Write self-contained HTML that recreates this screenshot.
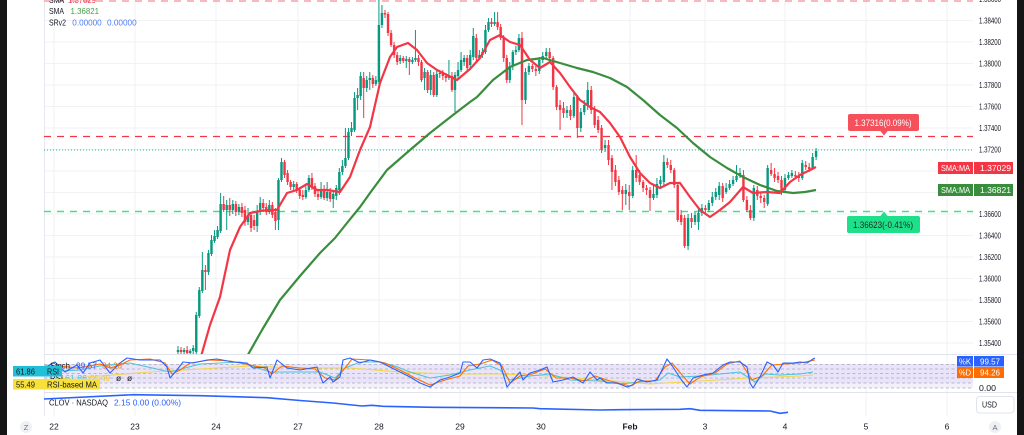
<!DOCTYPE html>
<html><head><meta charset="utf-8"><title>Chart</title>
<style>html,body{margin:0;padding:0;background:#fff;}svg{display:block;}</style>
</head><body>
<svg xmlns="http://www.w3.org/2000/svg" width="1024" height="435" viewBox="0 0 1024 435" font-family="'Liberation Sans', sans-serif">
<defs>
<clipPath id="mc"><rect x="44" y="0" width="929" height="354"/></clipPath>
<clipPath id="sc"><rect x="44" y="355" width="929" height="37"/></clipPath>
</defs>
<rect x="0" y="0" width="1024" height="435" fill="#fff"/>
<!-- grid -->
<g stroke="#f0f2f6" stroke-width="1">
<path d="M44 20.5H973M44 42H973M44 63.5H973M44 85H973M44 106.5H973M44 128H973M44 149.5H973M44 171H973M44 192.5H973M44 214H973M44 235.5H973M44 257H973M44 278.5H973M44 300H973M44 321.5H973M44 343H973"/>
<path d="M54 0V416M135 0V416M216 0V416M298 0V416M379 0V416M460 0V416M541 0V416M630 0V416M705 0V416M785 0V416M866 0V416M947 0V416"/>
</g>
<path d="M44.5 0V416" stroke="#e6e8ee"/>
<!-- pane separators -->
<path d="M44 354.5H1017M44 392.5H1017" stroke="#e0e3eb" stroke-width="1"/>

<!-- horizontal levels -->
<path d="M44 1H973" stroke="#f5a0a7" stroke-width="1.5" stroke-dasharray="7 6"/>
<path d="M44 136.5H973" stroke="#f23645" stroke-width="1.2" stroke-dasharray="7 6"/>
<path d="M44 211.5H973" stroke="#44e08e" stroke-width="1.6" stroke-dasharray="7 6"/>
<path d="M44 150H973" stroke="#2bb3a3" stroke-width="1" stroke-dasharray="1 2"/>

<g clip-path="url(#mc)">
<!-- group A candles -->
<g transform="translate(178,0) scale(3.044,1)">
<path fill="#089981" d="M-.4 350h.8V352h-.8zM1.6 350h.8V352h-.8zM3.6 351h.8V353h-.8zM4.6 348h.8V351h-.8zM5.6 315h.8V352h-.8zM6.6 290h.8V316h-.8zM7.6 270h.8V291h-.8zM9.6 253h.8V272h-.8zM10.6 240h.8V254h-.8zM11.6 236h.8V241h-.8zM12.6 230h.8V237h-.8zM13.6 204h.8V231h-.8zM15.6 205h.8V210h-.8zM17.6 204h.8V210h-.8zM19.6 207h.8V212h-.8zM22.6 215h.8V222h-.8zM25.6 212h.8V226h-.8zM26.6 203h.8V212h-.8zM29.6 205h.8V212h-.8zM32.6 180h.8V220h-.8zM33.6 162h.8V180h-.8zM37.6 184h.8V187h-.8zM41.6 190h.8V197h-.8zM42.6 178h.8V190h-.8zM46.6 190h.8V197h-.8zM48.6 192h.8V198h-.8zM50.6 194h.8V199h-.8zM51.6 188h.8V196h-.8zM52.6 172h.8V190h-.8zM53.6 166h.8V172h-.8zM54.6 158h.8V166h-.8zM55.6 132h.8V158h-.8zM56.6 128h.8V132h-.8zM57.6 98h.8V130h-.8zM58.6 95h.8V98h-.8zM59.6 76h.8V96h-.8zM61.6 80h.8V88h-.8zM62.6 78h.8V80h-.8zM64.6 80h.8V84h-.8zM65.6 25h.8V82h-.8zM66.6 13h.8V25h-.8zM72.6 58h.8V61h-.8zM74.6 59h.8V61h-.8zM76.6 60h.8V62h-.8zM77.6 58h.8V60h-.8zM80.6 72h.8V78h-.8zM82.6 75h.8V90h-.8zM84.6 74h.8V95h-.8zM85.6 73h.8V74h-.8zM88.6 76h.8V78h-.8zM90.6 75h.8V90h-.8zM91.6 70h.8V76h-.8zM92.6 60h.8V70h-.8zM93.6 58h.8V62h-.8zM95.6 55h.8V65h-.8zM96.6 36h.8V57h-.8zM98.6 55h.8V58h-.8zM99.6 52h.8V55h-.8zM100.6 30h.8V52h-.8zM101.6 22h.8V30h-.8zM103.6 22h.8V24h-.8zM108.6 66h.8V80h-.8zM109.6 52h.8V66h-.8zM110.6 50h.8V52h-.8zM111.6 38h.8V50h-.8z"/>
<path stroke="#089981" stroke-width="1" vector-effect="non-scaling-stroke" fill="none" d="M0 346V355M2 348V355M4 349V355M5 345V355M6 312V355M7 287V318M8 252V293M10 250V275M11 235V256M12 230V243M13 226V239M14 193V233M16 200V230M18 200V214M20 204V215M23 208V225M26 205V232M27 197V215M30 200V214M33 178V230M34 158V182M38 181V190M42 186V199M43 175V192M47 182V199M49 182V201M51 190V208M52 185V200M53 168V195M54 160V175M55 128V168M56 128V160M57 122V136M58 92V132M59 88V110M60 72V100M62 76V92M63 72V90M65 76V86M66 0V84M67 5V28M73 55V64M75 56V68M77 57V64M78 30V62M81 68V90M83 70V95M85 70V97M86 70V78M89 60V80M91 72V112M92 62V78M93 52V72M94 55V66M96 50V68M97 28V60M99 50V60M100 48V58M101 25V54M102 18V32M104 12V26M109 62V83M110 50V70M111 46V55M112 34V52"/>
<path fill="#f23645" d="M.6 350h.8V352h-.8zM2.6 350h.8V353h-.8zM8.6 270h.8V272h-.8zM14.6 204h.8V210h-.8zM16.6 205h.8V210h-.8zM18.6 204h.8V212h-.8zM20.6 207h.8V213h-.8zM21.6 210h.8V222h-.8zM23.6 215h.8V228h-.8zM24.6 220h.8V226h-.8zM27.6 203h.8V208h-.8zM28.6 207h.8V212h-.8zM30.6 205h.8V215h-.8zM31.6 212h.8V221h-.8zM34.6 162h.8V175h-.8zM35.6 173h.8V182h-.8zM36.6 182h.8V187h-.8zM38.6 184h.8V190h-.8zM39.6 190h.8V196h-.8zM40.6 195h.8V197h-.8zM43.6 178h.8V186h-.8zM44.6 186h.8V194h-.8zM45.6 194h.8V197h-.8zM47.6 190h.8V198h-.8zM49.6 192h.8V199h-.8zM60.6 78h.8V88h-.8zM63.6 78h.8V84h-.8zM67.6 13h.8V14.5h-.8zM68.6 14h.8V33h-.8zM69.6 33h.8V45h-.8zM70.6 45h.8V55h-.8zM71.6 55h.8V62h-.8zM73.6 58h.8V61h-.8zM75.6 59h.8V62h-.8zM78.6 58h.8V62h-.8zM79.6 62h.8V80h-.8zM81.6 72h.8V90h-.8zM83.6 75h.8V95h-.8zM86.6 73h.8V76h-.8zM87.6 76h.8V78h-.8zM89.6 76h.8V90h-.8zM94.6 58h.8V68h-.8zM97.6 38h.8V58h-.8zM102.6 22h.8V24h-.8zM104.6 22h.8V27h-.8zM105.6 27h.8V38h-.8zM106.6 38h.8V58h-.8zM107.6 58h.8V80h-.8zM112.6 38h.8V100h-.8z"/>
<path stroke="#f23645" stroke-width="1" vector-effect="non-scaling-stroke" fill="none" d="M1 347V355M3 346V355M9 265V290M15 196V212M17 198V216M19 201V216M21 203V217M22 206V226M24 212V232M25 215V230M28 199V212M29 203V215M31 202V218M32 208V230M35 160V178M36 170V185M37 180V190M39 182V193M40 187V199M41 190V200M44 173V190M45 183V197M46 190V200M48 185V200M50 188V202M61 72V118M64 75V88M68 10V18M69 12V36M70 30V47M71 42V58M72 52V65M74 56V63M76 57V75M79 55V66M80 60V82M82 70V93M84 72V97M87 70V80M88 73V82M90 72V92M95 55V70M98 34V62M103 18V27M105 12V30M106 24V40M107 35V62M108 55V83M113 32V125"/>
</g>
<!-- group B candles -->
<g transform="translate(522,0) scale(3.46,1)">
<path fill="#089981" d="M.65 72h.7V100h-.7zM1.65 66h.7V72h-.7zM4.65 60h.7V71h-.7zM5.65 56h.7V60h-.7zM6.65 52h.7V56h-.7zM12.65 110h.7V113h-.7zM14.65 97h.7V116h-.7zM16.65 112h.7V128h-.7zM17.65 105h.7V112h-.7zM18.65 90h.7V105h-.7zM23.65 145h.7V148h-.7zM29.65 190h.7V194h-.7zM31.65 170h.7V196h-.7zM37.65 194h.7V198h-.7zM38.65 184h.7V195h-.7zM39.65 180h.7V184h-.7zM40.65 162h.7V182h-.7zM47.65 218h.7V246h-.7zM49.65 215h.7V222h-.7zM50.65 213h.7V222h-.7zM51.65 208h.7V213h-.7zM53.65 203h.7V210h-.7zM54.65 197h.7V203h-.7zM55.65 192h.7V197h-.7zM56.65 186h.7V195h-.7zM58.65 188h.7V192h-.7zM59.65 184h.7V188h-.7zM60.65 180h.7V184h-.7zM61.65 176h.7V180h-.7zM62.65 173h.7V176h-.7zM66.65 188h.7V218h-.7zM70.65 168h.7V204h-.7zM75.65 178h.7V190h-.7zM76.65 175h.7V178h-.7zM77.65 173h.7V176h-.7zM80.65 163h.7V178h-.7zM83.65 157h.7V168h-.7zM84.65 151h.7V157h-.7z"/>
<path stroke="#089981" stroke-width="1" vector-effect="non-scaling-stroke" fill="none" d="M1 68V104M2 63V75M5 57V74M6 52V63M7 48V60M13 106V118M15 92V118M17 108V132M18 100V115M19 82V110M24 140V152M30 184V205M32 166V198M38 185V200M39 178V198M40 176V187M41 155V185M48 214V250M50 212V225M51 208V230M52 204V216M54 200V212M55 192V206M56 188V200M57 182V200M59 183V194M60 180V190M61 176V186M62 165V182M63 168V178M67 185V221M71 165V206M76 174V193M77 172V180M78 170V178M81 160V180M84 153V170M85 148V160"/>
<path fill="#f23645" d="M2.65 66h.7V69h-.7zM3.65 69h.7V71h-.7zM7.65 52h.7V58h-.7zM8.65 58h.7V87h-.7zM9.65 87h.7V107h-.7zM10.65 105h.7V110h-.7zM11.65 108h.7V113h-.7zM13.65 110h.7V116h-.7zM15.65 97h.7V128h-.7zM19.65 90h.7V110h-.7zM20.65 110h.7V125h-.7zM21.65 120h.7V130h-.7zM22.65 128h.7V150h-.7zM24.65 145h.7V160h-.7zM25.65 158h.7V172h-.7zM26.65 170h.7V182h-.7zM27.65 180h.7V192h-.7zM28.65 190h.7V194h-.7zM30.65 192h.7V196h-.7zM32.65 170h.7V178h-.7zM33.65 175h.7V182h-.7zM34.65 182h.7V188h-.7zM35.65 188h.7V190h-.7zM36.65 190h.7V198h-.7zM41.65 162h.7V165h-.7zM42.65 165h.7V170h-.7zM43.65 170h.7V185h-.7zM44.65 185h.7V220h-.7zM45.65 215h.7V222h-.7zM46.65 218h.7V246h-.7zM48.65 218h.7V222h-.7zM52.65 208h.7V210h-.7zM57.65 186h.7V198h-.7zM63.65 175h.7V200h-.7zM64.65 200h.7V210h-.7zM65.65 210h.7V218h-.7zM67.65 190h.7V196h-.7zM68.65 196h.7V198h-.7zM69.65 198h.7V202h-.7zM71.65 170h.7V174h-.7zM72.65 174h.7V178h-.7zM73.65 176h.7V180h-.7zM74.65 180h.7V192h-.7zM78.65 175h.7V176.5h-.7zM79.65 176h.7V178h-.7zM81.65 165h.7V167h-.7zM82.65 167h.7V169h-.7z"/>
<path stroke="#f23645" stroke-width="1" vector-effect="non-scaling-stroke" fill="none" d="M3 64V72M4 66V76M8 48V62M9 56V90M10 85V110M11 100V130M12 102V118M14 105V120M16 95V138M20 86V114M21 106V128M22 116V133M23 125V153M25 140V165M26 155V190M27 165V186M28 176V195M29 186V210M31 185V210M33 155V182M34 170V185M35 180V192M36 185V195M37 187V211M42 158V168M43 160V173M44 168V188M45 182V222M46 210V225M47 215V248M49 213V228M53 205V213M58 183V202M64 170V202M65 196V212M66 205V220M68 186V200M69 192V203M70 195V208M72 163V176M73 168V182M74 172V183M75 176V195M79 171V179M80 172V182M82 161V170M83 163V172"/>
</g>
<!-- moving averages -->
<polyline fill="none" stroke="#388e3c" stroke-width="2.2" stroke-linejoin="round" points="245,360 262,330 280,300 300,276 320,253 335,238 347,223 360,207 370,193 387,170 410,150 430,133 453,115 470,102 477,97 493,80 510,67 527,60 543,58 560,63 577,68 593,72 610,78 627,87 643,100 660,115 677,128 693,143 710,157 727,168 743,177 760,185 777,191 793,193 805,192 816,190"/>
<polyline fill="none" stroke="#f23645" stroke-width="2.2" stroke-linejoin="round" points="200,360 210,325 220,297 230,250 240,227 250,213 260,211 270,210 277,210 287,193 297,190 307,184 317,190 327,190 340,192 350,177 360,150 370,127 380,83 390,57 397,47 408,43 417,50 427,63 437,70 447,75 457,80 470,69 480,58 490,40 500,35 510,42 520,45 530,60 540,68 550,62 560,73 570,87 580,100 590,107 600,112 610,123 620,137 630,157 640,173 650,183 660,188 670,183 680,183 690,197 700,210 710,217 720,210 730,202 743,187 753,193 767,192 780,193 790,182 800,175 810,170 816,167"/>
</g>

<!-- top legend -->
<g font-size="8.5" fill="#131722">
<text x="49" y="3" textLength="15" lengthAdjust="spacingAndGlyphs">SMA</text>
<text x="68" y="3" fill="#f23645" textLength="28" lengthAdjust="spacingAndGlyphs">1.37029</text>
<text x="49" y="14" textLength="15" lengthAdjust="spacingAndGlyphs">SMA</text>
<text x="70.5" y="14" fill="#43a047" textLength="28.5" lengthAdjust="spacingAndGlyphs">1.36821</text>
<text x="49" y="25.5" textLength="17" lengthAdjust="spacingAndGlyphs">SRv2</text>
<text x="72.3" y="25.5" fill="#4f7df9" textLength="29.4" lengthAdjust="spacingAndGlyphs">0.00000</text>
<text x="107" y="25.5" fill="#4f7df9" textLength="29.7" lengthAdjust="spacingAndGlyphs">0.00000</text>
</g>

<!-- level labels -->
<rect x="848" y="114" width="71" height="17" rx="2" fill="#f5515c"/>
<polygon points="880,130.5 888,130.5 884,135.5" fill="#f5515c"/>
<text x="854.5" y="125.8" font-size="9" fill="#fff" textLength="57" lengthAdjust="spacingAndGlyphs">1.37316(0.09%)</text>
<rect x="847" y="216" width="73" height="17" rx="2" fill="#1fe08a"/>
<polygon points="880,216.5 888,216.5 884,211.5" fill="#1fe08a"/>
<text x="853" y="227.8" font-size="9" fill="#1b2a22" textLength="60" lengthAdjust="spacingAndGlyphs">1.36623(-0.41%)</text>

<!-- stoch panel -->
<rect x="44" y="364" width="929" height="19" fill="#e9e4fa"/>
<rect x="44" y="383" width="929" height="5" fill="#f3f0fc"/>
<g stroke="#a8abb5" stroke-width="0.8" stroke-dasharray="3 2.5">
<path d="M44 364.5H973M44 369H973M44 373.5H973M44 378H973M44 383H973M44 388H973"/>
</g>
<g clip-path="url(#sc)" fill="none" stroke-width="1.1" stroke-linejoin="round">
<polyline stroke="#f2d64b" points="44,380 100,376 150,372 200,369 250,366 300,368 350,368 400,372 450,374 500,374 550,376 600,380 650,384 700,381 750,378 800,376 813,375"/>
<polyline stroke="#4fc3d9" points="44,372 80,370 100,366 130,363 170,372 200,364 240,362 270,372 300,372 320,372 335,378 345,368 360,362 380,362 395,366 410,372 430,378 450,375 470,370 490,366 500,370 510,380 530,376 550,374 570,380 600,381 620,384 640,382 660,380 668,373 680,377 700,376 720,374 740,372 755,382 765,374 780,375 800,374 813,372"/>
<polyline stroke="#ff6d00" points="44,366 60,366 77,368 90,366 100,364 110,368 120,365 130,360 150,359 165,363 172,374 180,370 190,363 210,360 230,361 250,365 265,368 272,374 282,366 300,368 315,369 325,378 335,380 345,368 352,359 370,360 385,363 400,370 415,378 430,385 445,380 460,376 468,366 480,364 492,360 502,366 510,383 520,376 532,374 545,369 556,378 570,378 585,381 595,376 610,381 630,386 640,381 655,381 665,367 672,363 682,375 690,384 700,377 715,373 727,364 740,361 752,380 762,376 772,365 785,364 800,363 815,360"/>
<polyline stroke="#2962ff" points="44,368 55,362 65,372 77,365 83,373 90,363 100,360 110,373 120,363 127,358 140,360 160,360 167,367 170,378 177,370 183,362 193,363 207,360 217,359 233,362 247,363 253,368 267,367 270,378 277,360 287,368 300,370 317,367 323,383 330,377 333,382 340,377 343,360 350,358 360,363 370,360 380,362 390,367 400,372 410,377 420,383 430,387 440,380 450,377 460,373 463,362 470,362 477,368 483,360 490,359 500,363 507,387 513,380 520,372 523,380 530,373 540,370 547,367 553,382 563,380 573,377 583,383 590,372 597,380 600,378 607,383 617,383 627,387 633,385 637,379 647,382 657,380 662,370 667,359 673,367 680,378 687,387 693,378 703,375 713,373 723,365 730,362 740,362 747,367 750,383 753,388 760,377 767,362 773,365 778,372 783,363 793,363 800,362 807,363 813,359 815,358"/>
</g>
<!-- stoch legend -->
<g font-size="8.5">
<text x="50" y="368.5" fill="#131722" textLength="20" lengthAdjust="spacingAndGlyphs">Stoch</text>
<text x="76" y="368.5" fill="#2962ff" textLength="21" lengthAdjust="spacingAndGlyphs">99.57</text>
<text x="102" y="368.5" fill="#ff6d00" textLength="20" lengthAdjust="spacingAndGlyphs">94.26</text>
<text x="50" y="381" fill="#131722" textLength="13" lengthAdjust="spacingAndGlyphs">RSI</text>
<text x="65" y="381" fill="#4fc3d9" textLength="22" lengthAdjust="spacingAndGlyphs">61.86</text>
<text x="90" y="381" fill="#e6c83a" textLength="20" lengthAdjust="spacingAndGlyphs">55.49</text>
<text x="116" y="381" fill="#131722">ø</text>
<text x="127" y="381" fill="#131722">ø</text>
<rect x="13" y="366" width="49" height="10.5" fill="#22c0d6"/>
<text x="16" y="374.5" fill="#131722" textLength="19" lengthAdjust="spacingAndGlyphs">61.86</text>
<text x="47" y="374.5" fill="#131722" textLength="12" lengthAdjust="spacingAndGlyphs">RSI</text>
<rect x="13" y="379" width="87" height="10.5" fill="#f7e03a"/>
<text x="16" y="387.5" fill="#131722" textLength="19" lengthAdjust="spacingAndGlyphs">55.49</text>
<text x="47" y="387.5" fill="#131722" textLength="50" lengthAdjust="spacingAndGlyphs">RSI-based MA</text>
</g>

<!-- CLOV line -->
<polyline fill="none" stroke="#2962ff" stroke-width="1.6" stroke-linejoin="round" points="44,399 133,394.7 200,395.7 267,397.7 300,400.5 333,403 362,406 372,405.3 383,406.3 433,407.3 533,408 540,408.7 600,410 620,409.7 680,409.3 690,408.7 700,410.3 770,411 780,413.3 788,412.3"/>
<g font-size="8.5">
<text x="49" y="405.7" fill="#131722" textLength="59" lengthAdjust="spacingAndGlyphs">CLOV · NASDAQ</text>
<text x="114" y="405.7" fill="#2962ff" textLength="67" lengthAdjust="spacingAndGlyphs">2.15  0.00 (0.00%)</text>
</g>

<!-- price axis -->
<g font-size="8" fill="#131722">
<text x="979" y="1.9" textLength="22" lengthAdjust="spacingAndGlyphs">1.38600</text>
<text x="979" y="23.4" textLength="22" lengthAdjust="spacingAndGlyphs">1.38400</text>
<text x="979" y="44.9" textLength="22" lengthAdjust="spacingAndGlyphs">1.38200</text>
<text x="979" y="66.4" textLength="22" lengthAdjust="spacingAndGlyphs">1.38000</text>
<text x="979" y="87.9" textLength="22" lengthAdjust="spacingAndGlyphs">1.37800</text>
<text x="979" y="109.4" textLength="22" lengthAdjust="spacingAndGlyphs">1.37600</text>
<text x="979" y="130.9" textLength="22" lengthAdjust="spacingAndGlyphs">1.37400</text>
<text x="979" y="152.4" textLength="22" lengthAdjust="spacingAndGlyphs">1.37200</text>
<text x="979" y="216.9" textLength="22" lengthAdjust="spacingAndGlyphs">1.36600</text>
<text x="979" y="238.4" textLength="22" lengthAdjust="spacingAndGlyphs">1.36400</text>
<text x="979" y="259.9" textLength="22" lengthAdjust="spacingAndGlyphs">1.36200</text>
<text x="979" y="281.4" textLength="22" lengthAdjust="spacingAndGlyphs">1.36000</text>
<text x="979" y="302.9" textLength="22" lengthAdjust="spacingAndGlyphs">1.35800</text>
<text x="979" y="324.4" textLength="22" lengthAdjust="spacingAndGlyphs">1.35600</text>
<text x="979" y="345.9" textLength="22" lengthAdjust="spacingAndGlyphs">1.35400</text>
<text x="979" y="391.2" textLength="17" lengthAdjust="spacingAndGlyphs">0.00</text>
</g>
<!-- SMA:MA labels -->
<rect x="938" y="162" width="35" height="12" fill="#f23645"/>
<rect x="974" y="162" width="39" height="12" fill="#f23645"/>
<rect x="938" y="184" width="35" height="12" fill="#388e3c"/>
<rect x="974" y="184" width="39" height="12" fill="#388e3c"/>
<g font-size="8.5" fill="#fff">
<text x="941" y="171.2" textLength="29" lengthAdjust="spacingAndGlyphs">SMA:MA</text>
<text x="980" y="171.2" textLength="31" lengthAdjust="spacingAndGlyphs">1.37029</text>
<text x="941" y="193.2" textLength="29" lengthAdjust="spacingAndGlyphs">SMA:MA</text>
<text x="980" y="193.2" textLength="31" lengthAdjust="spacingAndGlyphs">1.36821</text>
</g>
<!-- %K %D -->
<rect x="957" y="356" width="16" height="10.5" fill="#2962ff"/>
<rect x="974" y="356" width="30" height="10.5" fill="#2962ff"/>
<rect x="957" y="367" width="16" height="11" fill="#ff6d00"/>
<rect x="974" y="367" width="30" height="11" fill="#ff6d00"/>
<g font-size="8.5" fill="#fff">
<text x="959" y="364.3" textLength="12" lengthAdjust="spacingAndGlyphs">%K</text>
<text x="980" y="364.3" textLength="20" lengthAdjust="spacingAndGlyphs">99.57</text>
<text x="959" y="375.6" textLength="12" lengthAdjust="spacingAndGlyphs">%D</text>
<text x="980" y="375.6" textLength="20" lengthAdjust="spacingAndGlyphs">94.26</text>
</g>
<!-- USD -->
<rect x="976.5" y="396.5" width="37.5" height="16.5" rx="3" fill="#fff" stroke="#e0e3eb"/>
<text x="982" y="407.5" font-size="8.5" fill="#131722" textLength="15" lengthAdjust="spacingAndGlyphs">USD</text>

<!-- time axis -->
<g font-size="8.5" fill="#131722" text-anchor="middle">
<text x="54" y="429.6">22</text>
<text x="135" y="429.6">23</text>
<text x="216" y="429.6">24</text>
<text x="298" y="429.6">27</text>
<text x="379" y="429.6">28</text>
<text x="460" y="429.6">29</text>
<text x="541" y="429.6">30</text>
<text x="630" y="429.6" font-weight="bold">Feb</text>
<text x="705" y="429.6">3</text>
<text x="785" y="429.6">4</text>
<text x="866" y="429.6">5</text>
<text x="947" y="429.6">6</text>
</g>
<circle cx="26" cy="427" r="6" fill="#eef0f4"/>
<text x="26" y="429.8" font-size="7.5" fill="#6a6d78" text-anchor="middle">Z</text>
<circle cx="995" cy="427" r="6" fill="#eef0f4"/>
<text x="995" y="429.8" font-size="7.5" fill="#6a6d78" text-anchor="middle">A</text>

<!-- dark borders -->
<rect x="0" y="0" width="7" height="435" fill="#151515"/>
<rect x="1017" y="0" width="7" height="435" fill="#151515"/>
</svg>
</body></html>
